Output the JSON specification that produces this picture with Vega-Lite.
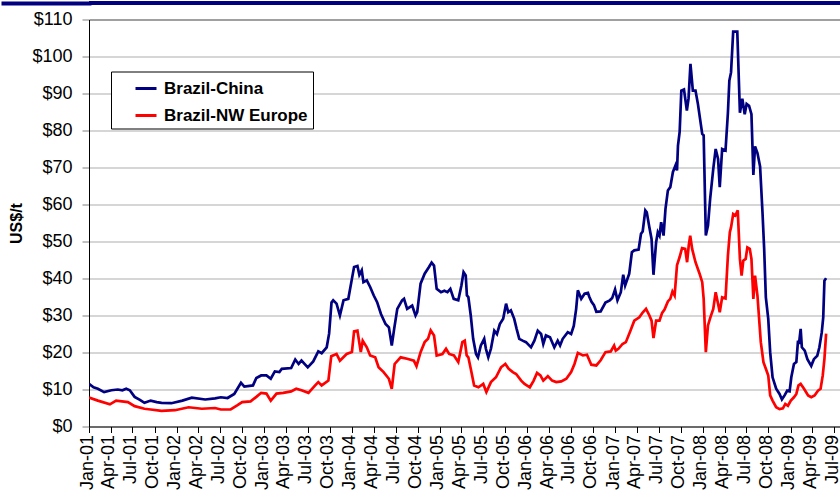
{
  "$schema": "https://vega.github.io/schema/vega-lite/v6.json",
  "padding": {"left": 0, "top": 0, "right": 0, "bottom": 0},
  "spacing": 4.5,
  "resolve": {"scale": {"color": "independent"}, "legend": {"color": "independent"}},
  "config": {"font": "Liberation Sans", "view": {"stroke": null}},
  "vconcat": [
    {
      "width": 752,
      "height": 4,
      "view": {"fill": "#000080", "stroke": null},
      "data": {"values": [{"b": 0}]},
      "mark": {"type": "point", "opacity": 0, "size": 0},
      "encoding": {
        "y": {
          "field": "b",
          "type": "quantitative",
          "scale": {"domain": [0, 1]},
          "axis": {
            "title": null,
            "labels": false,
            "domain": false,
            "grid": false,
            "values": [0.5],
            "tickSize": 86,
            "tickWidth": 4,
            "tickCap": "square",
            "tickColor": "#000080"
          }
        }
      }
    },
    {
      "width": 752,
      "height": 407,
      "data": {"values": [
        {"d":"2001-01-01","s":"Brazil-China","v":11.5},
        {"d":"2001-01-20","s":"Brazil-China","v":10.6},
        {"d":"2001-02-07","s":"Brazil-China","v":10.2},
        {"d":"2001-03-05","s":"Brazil-China","v":9.3},
        {"d":"2001-04-04","s":"Brazil-China","v":9.8},
        {"d":"2001-05-01","s":"Brazil-China","v":10.0},
        {"d":"2001-05-20","s":"Brazil-China","v":9.8},
        {"d":"2001-06-05","s":"Brazil-China","v":10.2},
        {"d":"2001-06-20","s":"Brazil-China","v":9.8},
        {"d":"2001-07-10","s":"Brazil-China","v":8.0},
        {"d":"2001-08-01","s":"Brazil-China","v":7.2},
        {"d":"2001-08-20","s":"Brazil-China","v":6.4},
        {"d":"2001-09-15","s":"Brazil-China","v":7.0},
        {"d":"2001-10-10","s":"Brazil-China","v":6.6},
        {"d":"2001-10-30","s":"Brazil-China","v":6.4},
        {"d":"2001-12-10","s":"Brazil-China","v":6.3},
        {"d":"2002-01-25","s":"Brazil-China","v":7.0},
        {"d":"2002-03-05","s":"Brazil-China","v":7.8},
        {"d":"2002-04-30","s":"Brazil-China","v":7.3},
        {"d":"2002-06-10","s":"Brazil-China","v":7.6},
        {"d":"2002-07-04","s":"Brazil-China","v":7.9},
        {"d":"2002-08-01","s":"Brazil-China","v":7.7},
        {"d":"2002-08-29","s":"Brazil-China","v":8.8},
        {"d":"2002-09-26","s":"Brazil-China","v":11.8},
        {"d":"2002-10-10","s":"Brazil-China","v":10.8},
        {"d":"2002-11-15","s":"Brazil-China","v":11.1},
        {"d":"2002-11-29","s":"Brazil-China","v":13.1},
        {"d":"2002-12-19","s":"Brazil-China","v":13.8},
        {"d":"2003-01-10","s":"Brazil-China","v":13.8},
        {"d":"2003-01-28","s":"Brazil-China","v":12.9},
        {"d":"2003-02-14","s":"Brazil-China","v":14.9},
        {"d":"2003-03-05","s":"Brazil-China","v":14.7},
        {"d":"2003-03-15","s":"Brazil-China","v":15.6},
        {"d":"2003-04-23","s":"Brazil-China","v":15.8},
        {"d":"2003-05-10","s":"Brazil-China","v":18.1},
        {"d":"2003-05-24","s":"Brazil-China","v":16.9},
        {"d":"2003-06-05","s":"Brazil-China","v":17.8},
        {"d":"2003-07-01","s":"Brazil-China","v":16.0},
        {"d":"2003-07-24","s":"Brazil-China","v":17.6},
        {"d":"2003-08-14","s":"Brazil-China","v":20.3},
        {"d":"2003-08-28","s":"Brazil-China","v":19.8},
        {"d":"2003-09-18","s":"Brazil-China","v":21.4},
        {"d":"2003-09-28","s":"Brazil-China","v":25.1},
        {"d":"2003-10-08","s":"Brazil-China","v":33.5},
        {"d":"2003-10-15","s":"Brazil-China","v":34.1},
        {"d":"2003-10-29","s":"Brazil-China","v":33.2},
        {"d":"2003-11-12","s":"Brazil-China","v":30.0},
        {"d":"2003-11-27","s":"Brazil-China","v":34.1},
        {"d":"2003-12-17","s":"Brazil-China","v":34.5},
        {"d":"2004-01-01","s":"Brazil-China","v":39.9},
        {"d":"2004-01-10","s":"Brazil-China","v":43.1},
        {"d":"2004-01-24","s":"Brazil-China","v":43.4},
        {"d":"2004-02-01","s":"Brazil-China","v":41.0},
        {"d":"2004-02-11","s":"Brazil-China","v":42.2},
        {"d":"2004-02-18","s":"Brazil-China","v":39.0},
        {"d":"2004-03-03","s":"Brazil-China","v":39.5},
        {"d":"2004-03-17","s":"Brazil-China","v":37.7},
        {"d":"2004-04-01","s":"Brazil-China","v":35.4},
        {"d":"2004-04-15","s":"Brazil-China","v":33.6},
        {"d":"2004-05-01","s":"Brazil-China","v":30.4},
        {"d":"2004-05-20","s":"Brazil-China","v":27.7},
        {"d":"2004-06-03","s":"Brazil-China","v":26.8},
        {"d":"2004-06-15","s":"Brazil-China","v":21.9},
        {"d":"2004-06-25","s":"Brazil-China","v":26.4},
        {"d":"2004-07-08","s":"Brazil-China","v":31.8},
        {"d":"2004-07-28","s":"Brazil-China","v":34.1},
        {"d":"2004-08-05","s":"Brazil-China","v":34.5},
        {"d":"2004-08-18","s":"Brazil-China","v":31.8},
        {"d":"2004-09-08","s":"Brazil-China","v":32.7},
        {"d":"2004-09-22","s":"Brazil-China","v":30.0},
        {"d":"2004-09-29","s":"Brazil-China","v":30.9},
        {"d":"2004-10-13","s":"Brazil-China","v":38.6},
        {"d":"2004-10-30","s":"Brazil-China","v":41.3},
        {"d":"2004-11-17","s":"Brazil-China","v":43.1},
        {"d":"2004-11-28","s":"Brazil-China","v":44.3},
        {"d":"2004-12-08","s":"Brazil-China","v":43.5},
        {"d":"2004-12-19","s":"Brazil-China","v":37.2},
        {"d":"2005-01-06","s":"Brazil-China","v":36.3},
        {"d":"2005-01-20","s":"Brazil-China","v":36.7},
        {"d":"2005-02-02","s":"Brazil-China","v":36.3},
        {"d":"2005-02-14","s":"Brazil-China","v":37.2},
        {"d":"2005-02-28","s":"Brazil-China","v":34.5},
        {"d":"2005-03-19","s":"Brazil-China","v":34.1},
        {"d":"2005-04-01","s":"Brazil-China","v":38.1},
        {"d":"2005-04-10","s":"Brazil-China","v":41.7},
        {"d":"2005-04-19","s":"Brazil-China","v":40.8},
        {"d":"2005-04-24","s":"Brazil-China","v":35.4},
        {"d":"2005-04-30","s":"Brazil-China","v":35.0},
        {"d":"2005-05-10","s":"Brazil-China","v":30.0},
        {"d":"2005-05-20","s":"Brazil-China","v":23.7},
        {"d":"2005-06-01","s":"Brazil-China","v":19.6},
        {"d":"2005-06-09","s":"Brazil-China","v":18.7},
        {"d":"2005-06-21","s":"Brazil-China","v":21.9},
        {"d":"2005-07-05","s":"Brazil-China","v":23.7},
        {"d":"2005-07-12","s":"Brazil-China","v":21.0},
        {"d":"2005-07-22","s":"Brazil-China","v":18.7},
        {"d":"2005-08-02","s":"Brazil-China","v":21.0},
        {"d":"2005-08-16","s":"Brazil-China","v":25.9},
        {"d":"2005-08-27","s":"Brazil-China","v":25.0},
        {"d":"2005-09-08","s":"Brazil-China","v":27.7},
        {"d":"2005-09-22","s":"Brazil-China","v":29.1},
        {"d":"2005-10-04","s":"Brazil-China","v":33.2},
        {"d":"2005-10-13","s":"Brazil-China","v":30.9},
        {"d":"2005-10-24","s":"Brazil-China","v":31.4},
        {"d":"2005-11-07","s":"Brazil-China","v":29.1},
        {"d":"2005-11-17","s":"Brazil-China","v":26.4},
        {"d":"2005-11-28","s":"Brazil-China","v":23.7},
        {"d":"2005-12-12","s":"Brazil-China","v":23.2},
        {"d":"2005-12-26","s":"Brazil-China","v":22.8},
        {"d":"2006-01-16","s":"Brazil-China","v":21.4},
        {"d":"2006-01-30","s":"Brazil-China","v":23.2},
        {"d":"2006-02-13","s":"Brazil-China","v":25.9},
        {"d":"2006-02-27","s":"Brazil-China","v":25.0},
        {"d":"2006-03-08","s":"Brazil-China","v":22.3},
        {"d":"2006-03-19","s":"Brazil-China","v":24.6},
        {"d":"2006-04-05","s":"Brazil-China","v":24.1},
        {"d":"2006-04-23","s":"Brazil-China","v":21.4},
        {"d":"2006-05-07","s":"Brazil-China","v":23.2},
        {"d":"2006-05-17","s":"Brazil-China","v":21.9},
        {"d":"2006-05-28","s":"Brazil-China","v":23.7},
        {"d":"2006-06-18","s":"Brazil-China","v":25.5},
        {"d":"2006-07-02","s":"Brazil-China","v":25.0},
        {"d":"2006-07-13","s":"Brazil-China","v":27.2},
        {"d":"2006-07-23","s":"Brazil-China","v":31.8},
        {"d":"2006-07-30","s":"Brazil-China","v":36.8},
        {"d":"2006-08-13","s":"Brazil-China","v":34.5},
        {"d":"2006-08-27","s":"Brazil-China","v":35.9},
        {"d":"2006-09-10","s":"Brazil-China","v":36.1},
        {"d":"2006-09-16","s":"Brazil-China","v":35.0},
        {"d":"2006-09-25","s":"Brazil-China","v":33.7},
        {"d":"2006-10-05","s":"Brazil-China","v":32.8},
        {"d":"2006-10-15","s":"Brazil-China","v":31.0},
        {"d":"2006-11-02","s":"Brazil-China","v":31.1},
        {"d":"2006-11-22","s":"Brazil-China","v":33.5},
        {"d":"2006-12-10","s":"Brazil-China","v":34.1},
        {"d":"2006-12-20","s":"Brazil-China","v":34.7},
        {"d":"2007-01-01","s":"Brazil-China","v":37.0},
        {"d":"2007-01-11","s":"Brazil-China","v":34.1},
        {"d":"2007-01-25","s":"Brazil-China","v":36.3},
        {"d":"2007-02-04","s":"Brazil-China","v":41.0},
        {"d":"2007-02-12","s":"Brazil-China","v":38.1},
        {"d":"2007-03-01","s":"Brazil-China","v":41.3},
        {"d":"2007-03-12","s":"Brazil-China","v":47.1},
        {"d":"2007-03-22","s":"Brazil-China","v":47.6},
        {"d":"2007-04-09","s":"Brazil-China","v":47.8},
        {"d":"2007-04-19","s":"Brazil-China","v":52.1},
        {"d":"2007-04-26","s":"Brazil-China","v":52.7},
        {"d":"2007-05-07","s":"Brazil-China","v":58.4},
        {"d":"2007-05-13","s":"Brazil-China","v":57.9},
        {"d":"2007-05-24","s":"Brazil-China","v":53.8},
        {"d":"2007-06-02","s":"Brazil-China","v":50.7},
        {"d":"2007-06-10","s":"Brazil-China","v":41.0},
        {"d":"2007-06-21","s":"Brazil-China","v":49.8},
        {"d":"2007-06-28","s":"Brazil-China","v":52.5},
        {"d":"2007-07-05","s":"Brazil-China","v":51.6},
        {"d":"2007-07-12","s":"Brazil-China","v":55.2},
        {"d":"2007-07-22","s":"Brazil-China","v":51.6},
        {"d":"2007-07-30","s":"Brazil-China","v":58.8},
        {"d":"2007-08-09","s":"Brazil-China","v":63.8},
        {"d":"2007-08-19","s":"Brazil-China","v":64.7},
        {"d":"2007-08-30","s":"Brazil-China","v":68.8},
        {"d":"2007-09-10","s":"Brazil-China","v":70.6},
        {"d":"2007-09-16","s":"Brazil-China","v":69.2},
        {"d":"2007-09-20","s":"Brazil-China","v":75.9},
        {"d":"2007-09-27","s":"Brazil-China","v":79.6},
        {"d":"2007-10-04","s":"Brazil-China","v":90.8},
        {"d":"2007-10-15","s":"Brazil-China","v":91.1},
        {"d":"2007-10-27","s":"Brazil-China","v":85.4},
        {"d":"2007-11-03","s":"Brazil-China","v":88.6},
        {"d":"2007-11-11","s":"Brazil-China","v":98.0},
        {"d":"2007-11-21","s":"Brazil-China","v":90.8},
        {"d":"2007-12-02","s":"Brazil-China","v":90.8},
        {"d":"2007-12-12","s":"Brazil-China","v":87.2},
        {"d":"2007-12-30","s":"Brazil-China","v":79.1},
        {"d":"2008-01-05","s":"Brazil-China","v":78.7},
        {"d":"2008-01-14","s":"Brazil-China","v":51.6},
        {"d":"2008-01-23","s":"Brazil-China","v":54.3},
        {"d":"2008-02-01","s":"Brazil-China","v":61.5},
        {"d":"2008-02-14","s":"Brazil-China","v":69.6},
        {"d":"2008-02-24","s":"Brazil-China","v":75.0},
        {"d":"2008-03-05","s":"Brazil-China","v":72.3},
        {"d":"2008-03-12","s":"Brazil-China","v":64.7},
        {"d":"2008-03-22","s":"Brazil-China","v":75.0},
        {"d":"2008-04-05","s":"Brazil-China","v":74.6},
        {"d":"2008-04-15","s":"Brazil-China","v":84.8},
        {"d":"2008-04-21","s":"Brazil-China","v":93.5},
        {"d":"2008-04-28","s":"Brazil-China","v":95.7},
        {"d":"2008-05-07","s":"Brazil-China","v":106.7},
        {"d":"2008-05-24","s":"Brazil-China","v":106.7},
        {"d":"2008-06-04","s":"Brazil-China","v":84.8},
        {"d":"2008-06-14","s":"Brazil-China","v":88.6},
        {"d":"2008-06-24","s":"Brazil-China","v":84.4},
        {"d":"2008-07-02","s":"Brazil-China","v":87.2},
        {"d":"2008-07-12","s":"Brazil-China","v":86.7},
        {"d":"2008-07-22","s":"Brazil-China","v":84.4},
        {"d":"2008-07-30","s":"Brazil-China","v":68.0},
        {"d":"2008-08-06","s":"Brazil-China","v":75.7},
        {"d":"2008-08-16","s":"Brazil-China","v":73.9},
        {"d":"2008-08-27","s":"Brazil-China","v":70.3},
        {"d":"2008-09-06","s":"Brazil-China","v":57.9},
        {"d":"2008-09-13","s":"Brazil-China","v":48.0},
        {"d":"2008-09-20","s":"Brazil-China","v":34.9},
        {"d":"2008-09-30","s":"Brazil-China","v":29.1},
        {"d":"2008-10-08","s":"Brazil-China","v":20.1},
        {"d":"2008-10-18","s":"Brazil-China","v":13.3},
        {"d":"2008-11-02","s":"Brazil-China","v":10.2},
        {"d":"2008-11-16","s":"Brazil-China","v":8.8},
        {"d":"2008-11-26","s":"Brazil-China","v":7.3},
        {"d":"2008-12-07","s":"Brazil-China","v":8.4},
        {"d":"2008-12-18","s":"Brazil-China","v":9.7},
        {"d":"2008-12-28","s":"Brazil-China","v":9.5},
        {"d":"2009-01-04","s":"Brazil-China","v":13.3},
        {"d":"2009-01-15","s":"Brazil-China","v":16.9},
        {"d":"2009-01-25","s":"Brazil-China","v":17.4},
        {"d":"2009-02-01","s":"Brazil-China","v":23.2},
        {"d":"2009-02-05","s":"Brazil-China","v":22.3},
        {"d":"2009-02-12","s":"Brazil-China","v":26.4},
        {"d":"2009-02-17","s":"Brazil-China","v":21.4},
        {"d":"2009-03-01","s":"Brazil-China","v":20.5},
        {"d":"2009-03-12","s":"Brazil-China","v":18.2},
        {"d":"2009-03-28","s":"Brazil-China","v":16.4},
        {"d":"2009-04-08","s":"Brazil-China","v":18.2},
        {"d":"2009-04-22","s":"Brazil-China","v":19.1},
        {"d":"2009-05-01","s":"Brazil-China","v":21.4},
        {"d":"2009-05-11","s":"Brazil-China","v":25.5},
        {"d":"2009-05-17","s":"Brazil-China","v":29.5},
        {"d":"2009-05-22","s":"Brazil-China","v":39.4},
        {"d":"2009-05-29","s":"Brazil-China","v":40.1},
        {"d":"2001-01-01","s":"Brazil-NW Europe","v":7.8},
        {"d":"2001-02-07","s":"Brazil-NW Europe","v":7.0},
        {"d":"2001-03-29","s":"Brazil-NW Europe","v":6.0},
        {"d":"2001-04-24","s":"Brazil-NW Europe","v":7.0},
        {"d":"2001-06-12","s":"Brazil-NW Europe","v":6.6},
        {"d":"2001-07-10","s":"Brazil-NW Europe","v":5.5},
        {"d":"2001-08-20","s":"Brazil-NW Europe","v":4.8},
        {"d":"2001-09-15","s":"Brazil-NW Europe","v":4.6},
        {"d":"2001-10-30","s":"Brazil-NW Europe","v":4.2},
        {"d":"2001-12-25","s":"Brazil-NW Europe","v":4.4},
        {"d":"2002-02-20","s":"Brazil-NW Europe","v":5.2},
        {"d":"2002-04-16","s":"Brazil-NW Europe","v":4.8},
        {"d":"2002-06-10","s":"Brazil-NW Europe","v":5.0},
        {"d":"2002-07-04","s":"Brazil-NW Europe","v":4.6},
        {"d":"2002-08-14","s":"Brazil-NW Europe","v":4.6},
        {"d":"2002-09-10","s":"Brazil-NW Europe","v":5.7},
        {"d":"2002-10-01","s":"Brazil-NW Europe","v":6.6},
        {"d":"2002-11-05","s":"Brazil-NW Europe","v":6.8},
        {"d":"2002-11-29","s":"Brazil-NW Europe","v":8.0},
        {"d":"2002-12-19","s":"Brazil-NW Europe","v":9.1},
        {"d":"2003-01-10","s":"Brazil-NW Europe","v":8.9},
        {"d":"2003-01-28","s":"Brazil-NW Europe","v":7.0},
        {"d":"2003-02-21","s":"Brazil-NW Europe","v":8.9},
        {"d":"2003-03-21","s":"Brazil-NW Europe","v":9.1},
        {"d":"2003-04-23","s":"Brazil-NW Europe","v":9.5},
        {"d":"2003-05-14","s":"Brazil-NW Europe","v":10.2},
        {"d":"2003-06-05","s":"Brazil-NW Europe","v":9.8},
        {"d":"2003-07-04","s":"Brazil-NW Europe","v":9.1},
        {"d":"2003-08-01","s":"Brazil-NW Europe","v":11.1},
        {"d":"2003-08-14","s":"Brazil-NW Europe","v":12.0},
        {"d":"2003-08-28","s":"Brazil-NW Europe","v":11.1},
        {"d":"2003-09-25","s":"Brazil-NW Europe","v":12.4},
        {"d":"2003-10-07","s":"Brazil-NW Europe","v":19.0},
        {"d":"2003-10-29","s":"Brazil-NW Europe","v":19.6},
        {"d":"2003-11-12","s":"Brazil-NW Europe","v":17.8},
        {"d":"2003-12-10","s":"Brazil-NW Europe","v":19.6},
        {"d":"2004-01-01","s":"Brazil-NW Europe","v":20.1},
        {"d":"2004-01-10","s":"Brazil-NW Europe","v":25.7},
        {"d":"2004-01-24","s":"Brazil-NW Europe","v":25.9},
        {"d":"2004-02-07","s":"Brazil-NW Europe","v":20.1},
        {"d":"2004-02-15","s":"Brazil-NW Europe","v":23.2},
        {"d":"2004-03-03","s":"Brazil-NW Europe","v":21.4},
        {"d":"2004-03-17","s":"Brazil-NW Europe","v":19.2},
        {"d":"2004-04-07","s":"Brazil-NW Europe","v":18.7},
        {"d":"2004-04-21","s":"Brazil-NW Europe","v":16.0},
        {"d":"2004-05-12","s":"Brazil-NW Europe","v":14.7},
        {"d":"2004-06-03","s":"Brazil-NW Europe","v":12.9},
        {"d":"2004-06-15","s":"Brazil-NW Europe","v":10.2},
        {"d":"2004-06-27","s":"Brazil-NW Europe","v":16.9},
        {"d":"2004-07-22","s":"Brazil-NW Europe","v":18.7},
        {"d":"2004-08-18","s":"Brazil-NW Europe","v":18.3},
        {"d":"2004-09-15","s":"Brazil-NW Europe","v":17.8},
        {"d":"2004-09-26","s":"Brazil-NW Europe","v":16.3},
        {"d":"2004-10-13","s":"Brazil-NW Europe","v":20.1},
        {"d":"2004-10-30","s":"Brazil-NW Europe","v":22.8},
        {"d":"2004-11-13","s":"Brazil-NW Europe","v":23.7},
        {"d":"2004-11-24","s":"Brazil-NW Europe","v":26.0},
        {"d":"2004-12-08","s":"Brazil-NW Europe","v":24.6},
        {"d":"2004-12-19","s":"Brazil-NW Europe","v":19.2},
        {"d":"2005-01-12","s":"Brazil-NW Europe","v":19.6},
        {"d":"2005-01-27","s":"Brazil-NW Europe","v":21.0},
        {"d":"2005-02-09","s":"Brazil-NW Europe","v":19.6},
        {"d":"2005-03-01","s":"Brazil-NW Europe","v":19.2},
        {"d":"2005-03-19","s":"Brazil-NW Europe","v":17.4},
        {"d":"2005-04-05","s":"Brazil-NW Europe","v":22.8},
        {"d":"2005-04-15","s":"Brazil-NW Europe","v":23.2},
        {"d":"2005-04-23","s":"Brazil-NW Europe","v":19.2},
        {"d":"2005-04-30","s":"Brazil-NW Europe","v":18.7},
        {"d":"2005-05-10","s":"Brazil-NW Europe","v":15.6},
        {"d":"2005-05-24","s":"Brazil-NW Europe","v":11.1},
        {"d":"2005-06-11","s":"Brazil-NW Europe","v":10.6},
        {"d":"2005-07-01","s":"Brazil-NW Europe","v":11.5},
        {"d":"2005-07-14","s":"Brazil-NW Europe","v":9.3},
        {"d":"2005-08-02","s":"Brazil-NW Europe","v":12.0},
        {"d":"2005-08-23","s":"Brazil-NW Europe","v":13.3},
        {"d":"2005-09-13","s":"Brazil-NW Europe","v":16.0},
        {"d":"2005-10-01","s":"Brazil-NW Europe","v":16.9},
        {"d":"2005-10-15","s":"Brazil-NW Europe","v":15.6},
        {"d":"2005-11-01","s":"Brazil-NW Europe","v":14.7},
        {"d":"2005-11-15","s":"Brazil-NW Europe","v":14.2},
        {"d":"2005-12-06","s":"Brazil-NW Europe","v":12.4},
        {"d":"2005-12-20","s":"Brazil-NW Europe","v":11.5},
        {"d":"2006-01-11","s":"Brazil-NW Europe","v":10.6},
        {"d":"2006-01-27","s":"Brazil-NW Europe","v":12.4},
        {"d":"2006-02-10","s":"Brazil-NW Europe","v":14.5},
        {"d":"2006-02-24","s":"Brazil-NW Europe","v":13.8},
        {"d":"2006-03-08","s":"Brazil-NW Europe","v":12.4},
        {"d":"2006-03-27","s":"Brazil-NW Europe","v":13.6},
        {"d":"2006-04-14","s":"Brazil-NW Europe","v":12.4},
        {"d":"2006-05-01","s":"Brazil-NW Europe","v":12.0},
        {"d":"2006-05-22","s":"Brazil-NW Europe","v":12.2},
        {"d":"2006-06-12","s":"Brazil-NW Europe","v":12.9},
        {"d":"2006-07-02","s":"Brazil-NW Europe","v":14.7},
        {"d":"2006-07-16","s":"Brazil-NW Europe","v":16.9},
        {"d":"2006-07-30","s":"Brazil-NW Europe","v":19.9},
        {"d":"2006-08-20","s":"Brazil-NW Europe","v":19.2},
        {"d":"2006-09-06","s":"Brazil-NW Europe","v":19.4},
        {"d":"2006-09-24","s":"Brazil-NW Europe","v":16.7},
        {"d":"2006-10-15","s":"Brazil-NW Europe","v":16.5},
        {"d":"2006-11-02","s":"Brazil-NW Europe","v":17.9},
        {"d":"2006-11-22","s":"Brazil-NW Europe","v":20.1},
        {"d":"2006-12-14","s":"Brazil-NW Europe","v":20.3},
        {"d":"2006-12-28","s":"Brazil-NW Europe","v":21.9},
        {"d":"2007-01-04","s":"Brazil-NW Europe","v":20.5},
        {"d":"2007-01-15","s":"Brazil-NW Europe","v":21.0},
        {"d":"2007-02-01","s":"Brazil-NW Europe","v":22.3},
        {"d":"2007-02-15","s":"Brazil-NW Europe","v":22.8},
        {"d":"2007-03-06","s":"Brazil-NW Europe","v":25.9},
        {"d":"2007-03-22","s":"Brazil-NW Europe","v":28.6},
        {"d":"2007-04-12","s":"Brazil-NW Europe","v":29.5},
        {"d":"2007-04-26","s":"Brazil-NW Europe","v":30.8},
        {"d":"2007-05-10","s":"Brazil-NW Europe","v":31.8},
        {"d":"2007-05-24","s":"Brazil-NW Europe","v":30.0},
        {"d":"2007-06-02","s":"Brazil-NW Europe","v":28.6},
        {"d":"2007-06-10","s":"Brazil-NW Europe","v":23.9},
        {"d":"2007-06-21","s":"Brazil-NW Europe","v":28.6},
        {"d":"2007-07-05","s":"Brazil-NW Europe","v":28.6},
        {"d":"2007-07-16","s":"Brazil-NW Europe","v":30.7},
        {"d":"2007-07-26","s":"Brazil-NW Europe","v":31.6},
        {"d":"2007-08-09","s":"Brazil-NW Europe","v":33.8},
        {"d":"2007-08-19","s":"Brazil-NW Europe","v":34.5},
        {"d":"2007-08-28","s":"Brazil-NW Europe","v":36.5},
        {"d":"2007-09-06","s":"Brazil-NW Europe","v":35.4},
        {"d":"2007-09-16","s":"Brazil-NW Europe","v":43.6},
        {"d":"2007-09-27","s":"Brazil-NW Europe","v":45.8},
        {"d":"2007-10-07","s":"Brazil-NW Europe","v":48.2},
        {"d":"2007-10-20","s":"Brazil-NW Europe","v":48.0},
        {"d":"2007-10-28","s":"Brazil-NW Europe","v":44.4},
        {"d":"2007-11-04","s":"Brazil-NW Europe","v":49.0},
        {"d":"2007-11-10","s":"Brazil-NW Europe","v":51.6},
        {"d":"2007-11-18","s":"Brazil-NW Europe","v":48.0},
        {"d":"2007-12-02","s":"Brazil-NW Europe","v":44.4},
        {"d":"2007-12-19","s":"Brazil-NW Europe","v":41.3},
        {"d":"2007-12-30","s":"Brazil-NW Europe","v":39.0},
        {"d":"2008-01-05","s":"Brazil-NW Europe","v":34.5},
        {"d":"2008-01-14","s":"Brazil-NW Europe","v":20.1},
        {"d":"2008-01-23","s":"Brazil-NW Europe","v":27.3},
        {"d":"2008-02-02","s":"Brazil-NW Europe","v":29.5},
        {"d":"2008-02-14","s":"Brazil-NW Europe","v":31.8},
        {"d":"2008-02-24","s":"Brazil-NW Europe","v":36.3},
        {"d":"2008-03-05","s":"Brazil-NW Europe","v":33.2},
        {"d":"2008-03-12","s":"Brazil-NW Europe","v":30.9},
        {"d":"2008-03-22","s":"Brazil-NW Europe","v":34.9},
        {"d":"2008-04-05","s":"Brazil-NW Europe","v":34.6},
        {"d":"2008-04-15","s":"Brazil-NW Europe","v":46.2},
        {"d":"2008-04-23","s":"Brazil-NW Europe","v":52.5},
        {"d":"2008-04-28","s":"Brazil-NW Europe","v":53.8},
        {"d":"2008-05-07","s":"Brazil-NW Europe","v":57.4},
        {"d":"2008-05-16","s":"Brazil-NW Europe","v":57.0},
        {"d":"2008-05-26","s":"Brazil-NW Europe","v":58.4},
        {"d":"2008-06-04","s":"Brazil-NW Europe","v":45.3},
        {"d":"2008-06-11","s":"Brazil-NW Europe","v":40.8},
        {"d":"2008-06-18","s":"Brazil-NW Europe","v":44.8},
        {"d":"2008-06-28","s":"Brazil-NW Europe","v":45.3},
        {"d":"2008-07-05","s":"Brazil-NW Europe","v":48.4},
        {"d":"2008-07-15","s":"Brazil-NW Europe","v":48.0},
        {"d":"2008-07-22","s":"Brazil-NW Europe","v":45.3},
        {"d":"2008-07-30","s":"Brazil-NW Europe","v":34.5},
        {"d":"2008-08-06","s":"Brazil-NW Europe","v":40.8},
        {"d":"2008-08-16","s":"Brazil-NW Europe","v":35.4},
        {"d":"2008-08-30","s":"Brazil-NW Europe","v":22.8},
        {"d":"2008-09-10","s":"Brazil-NW Europe","v":17.4},
        {"d":"2008-09-20","s":"Brazil-NW Europe","v":15.6},
        {"d":"2008-09-30","s":"Brazil-NW Europe","v":13.8},
        {"d":"2008-10-08","s":"Brazil-NW Europe","v":8.4},
        {"d":"2008-10-18","s":"Brazil-NW Europe","v":7.0},
        {"d":"2008-11-02","s":"Brazil-NW Europe","v":5.2},
        {"d":"2008-11-16","s":"Brazil-NW Europe","v":4.7},
        {"d":"2008-11-30","s":"Brazil-NW Europe","v":4.9},
        {"d":"2008-12-10","s":"Brazil-NW Europe","v":6.1},
        {"d":"2008-12-21","s":"Brazil-NW Europe","v":5.6},
        {"d":"2009-01-02","s":"Brazil-NW Europe","v":7.0},
        {"d":"2009-01-15","s":"Brazil-NW Europe","v":7.9},
        {"d":"2009-01-25","s":"Brazil-NW Europe","v":8.8},
        {"d":"2009-02-03","s":"Brazil-NW Europe","v":11.1},
        {"d":"2009-02-12","s":"Brazil-NW Europe","v":11.5},
        {"d":"2009-02-26","s":"Brazil-NW Europe","v":10.2},
        {"d":"2009-03-15","s":"Brazil-NW Europe","v":8.4},
        {"d":"2009-03-28","s":"Brazil-NW Europe","v":7.9},
        {"d":"2009-04-11","s":"Brazil-NW Europe","v":8.4},
        {"d":"2009-04-25","s":"Brazil-NW Europe","v":9.7},
        {"d":"2009-05-06","s":"Brazil-NW Europe","v":10.2},
        {"d":"2009-05-15","s":"Brazil-NW Europe","v":13.8},
        {"d":"2009-05-22","s":"Brazil-NW Europe","v":18.3},
        {"d":"2009-05-29","s":"Brazil-NW Europe","v":25.1}
      ]},
      "mark": {"type": "line", "strokeWidth": 2.7, "clip": true},
      "encoding": {
        "x": {
          "field": "d",
          "type": "temporal",
          "scale": {
            "type": "utc",
            "domain": [
              {"year": 2001, "month": 1, "date": 1, "utc": true},
              {"year": 2009, "month": 7, "date": 30, "utc": true}
            ]
          },
          "axis": {
            "title": null,
            "values": [
              {"year": 2001, "month": 1, "date": 1, "utc": true},
              {"year": 2001, "month": 4, "date": 1, "utc": true},
              {"year": 2001, "month": 7, "date": 1, "utc": true},
              {"year": 2001, "month": 10, "date": 1, "utc": true},
              {"year": 2002, "month": 1, "date": 1, "utc": true},
              {"year": 2002, "month": 4, "date": 1, "utc": true},
              {"year": 2002, "month": 7, "date": 1, "utc": true},
              {"year": 2002, "month": 10, "date": 1, "utc": true},
              {"year": 2003, "month": 1, "date": 1, "utc": true},
              {"year": 2003, "month": 4, "date": 1, "utc": true},
              {"year": 2003, "month": 7, "date": 1, "utc": true},
              {"year": 2003, "month": 10, "date": 1, "utc": true},
              {"year": 2004, "month": 1, "date": 1, "utc": true},
              {"year": 2004, "month": 4, "date": 1, "utc": true},
              {"year": 2004, "month": 7, "date": 1, "utc": true},
              {"year": 2004, "month": 10, "date": 1, "utc": true},
              {"year": 2005, "month": 1, "date": 1, "utc": true},
              {"year": 2005, "month": 4, "date": 1, "utc": true},
              {"year": 2005, "month": 7, "date": 1, "utc": true},
              {"year": 2005, "month": 10, "date": 1, "utc": true},
              {"year": 2006, "month": 1, "date": 1, "utc": true},
              {"year": 2006, "month": 4, "date": 1, "utc": true},
              {"year": 2006, "month": 7, "date": 1, "utc": true},
              {"year": 2006, "month": 10, "date": 1, "utc": true},
              {"year": 2007, "month": 1, "date": 1, "utc": true},
              {"year": 2007, "month": 4, "date": 1, "utc": true},
              {"year": 2007, "month": 7, "date": 1, "utc": true},
              {"year": 2007, "month": 10, "date": 1, "utc": true},
              {"year": 2008, "month": 1, "date": 1, "utc": true},
              {"year": 2008, "month": 4, "date": 1, "utc": true},
              {"year": 2008, "month": 7, "date": 1, "utc": true},
              {"year": 2008, "month": 10, "date": 1, "utc": true},
              {"year": 2009, "month": 1, "date": 1, "utc": true},
              {"year": 2009, "month": 4, "date": 1, "utc": true},
              {"year": 2009, "month": 7, "date": 1, "utc": true}
            ],
            "labelExpr": "utcFormat(datum.value, '%b-%y')",
            "labelAngle": -90,
            "labelAlign": "right",
            "labelBaseline": "middle",
            "labelFontSize": 18,
            "labelColor": "#000000",
            "labelPadding": 2,
            "labelOffset": -2,
            "labelOverlap": false,
            "labelFlush": false,
            "tickSize": 6,
            "tickColor": "#000000",
            "domainColor": "#000000",
            "grid": false
          }
        },
        "y": {
          "field": "v",
          "type": "quantitative",
          "scale": {"domain": [0, 110], "nice": false},
          "axis": {
            "title": "US$/t",
            "titleFontSize": 16,
            "titleFontWeight": "bold",
            "titleColor": "#000000",
            "titlePadding": 7,
            "values": [0, 10, 20, 30, 40, 50, 60, 70, 80, 90, 100, 110],
            "labelExpr": "'$' + datum.value",
            "labelFontSize": 18,
            "labelColor": "#000000",
            "labelPadding": 10,
            "tickSize": 7,
            "tickColor": "#808080",
            "domainColor": "#000000",
            "grid": true,
            "gridColor": {"condition": {"test": "datum.value == 110", "value": "#808080"}, "value": "#c8c8c8"},
            "gridWidth": 1.5
          }
        },
        "color": {
          "field": "s",
          "type": "nominal",
          "scale": {"domain": ["Brazil-China", "Brazil-NW Europe"], "range": ["#000080", "#ff0000"]},
          "legend": {
            "title": null,
            "orient": "none",
            "legendX": 22,
            "legendY": 52,
            "padding": 5,
            "strokeColor": "#000000",
            "fillColor": "#ffffff",
            "symbolType": "stroke",
            "symbolSize": 441,
            "symbolStrokeWidth": 3,
            "symbolOffset": 18,
            "labelFontSize": 17,
            "labelFontWeight": "bold",
            "labelColor": "#000000",
            "labelOffset": 6,
            "rowPadding": 7
          }
        }
      }
    }
  ]
}
